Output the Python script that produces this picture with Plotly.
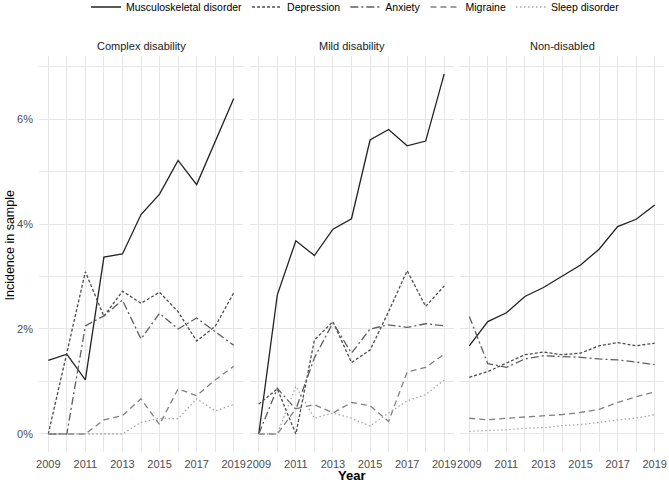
import plotly.graph_objects as go

# Year axis and incidence (%) per panel
years = list(range(2009, 2020))
panels = ["Complex disability", "Mild disability", "Non-disabled"]
conditions = ["Musculoskeletal disorder", "Depression", "Anxiety", "Migraine", "Sleep disorder"]

complex_msk = [1.40, 1.52, 1.03, 3.37, 3.43, 4.18, 4.57, 5.21, 4.75, 5.57, 6.39]
complex_dep = [0.00, 1.55, 3.09, 2.24, 2.72, 2.49, 2.70, 2.33, 1.77, 2.05, 2.69]
complex_anx = [0.00, 0.00, 2.06, 2.25, 2.55, 1.81, 2.30, 2.00, 2.21, 1.95, 1.69]
complex_mig = [0.00, 0.00, 0.00, 0.27, 0.35, 0.67, 0.18, 0.86, 0.73, 1.03, 1.29]
complex_slp = [0.00, 0.00, 0.00, 0.00, 0.00, 0.22, 0.30, 0.29, 0.67, 0.44, 0.56]

mild_msk = [0.00, 2.65, 3.68, 3.40, 3.90, 4.10, 5.60, 5.80, 5.49, 5.58, 6.86]
mild_dep = [0.57, 0.86, 0.00, 1.79, 2.14, 1.36, 1.60, 2.33, 3.11, 2.43, 2.82]
mild_anx = [0.00, 0.87, 0.47, 1.45, 2.12, 1.54, 2.00, 2.08, 2.03, 2.10, 2.06]
mild_mig = [0.00, 0.00, 0.48, 0.56, 0.40, 0.60, 0.54, 0.24, 1.18, 1.27, 1.52]
mild_slp = [0.00, 0.00, 0.91, 0.30, 0.40, 0.30, 0.15, 0.40, 0.63, 0.75, 1.03]

non_msk = [1.68, 2.14, 2.31, 2.62, 2.79, 3.01, 3.22, 3.52, 3.95, 4.09, 4.36]
non_dep = [1.08, 1.19, 1.35, 1.51, 1.56, 1.51, 1.54, 1.68, 1.74, 1.68, 1.73]
non_anx = [2.24, 1.34, 1.27, 1.43, 1.49, 1.48, 1.46, 1.43, 1.41, 1.37, 1.32]
non_mig = [0.30, 0.27, 0.30, 0.32, 0.35, 0.37, 0.41, 0.47, 0.60, 0.71, 0.80]
non_slp = [0.05, 0.06, 0.08, 0.11, 0.12, 0.16, 0.18, 0.22, 0.27, 0.30, 0.37]

series = {
    "Complex disability": [complex_msk, complex_dep, complex_anx, complex_mig, complex_slp],
    "Mild disability": [mild_msk, mild_dep, mild_anx, mild_mig, mild_slp],
    "Non-disabled": [non_msk, non_dep, non_anx, non_mig, non_slp],
}

styles = {
    "Musculoskeletal disorder": dict(color="#222222", dash="solid"),
    "Depression": dict(color="#4d4d4d", dash="3px,2px"),
    "Anxiety": dict(color="#5e5e5e", dash="8px,3px,2px,3px"),
    "Migraine": dict(color="#808080", dash="6px,4px"),
    "Sleep disorder": dict(color="#a6a6a6", dash="1.5px,2.5px"),
}

W, H = 669, 484
# plot area in pixels
L, R, T, B = 39, 664, 55.6, 452.4
PW, PH = R - L, B - T
# panel pixel bounds (left, right)
px_bounds = [(39, 243), (249.5, 453.5), (460, 664)]

font = "Liberation Sans, Arial, sans-serif"
grid = "#e6e6e6"

fig = go.Figure()
for i, panel in enumerate(panels):
    ax = "" if i == 0 else str(i + 1)
    for cond, vals in zip(conditions, series[panel]):
        st = styles[cond]
        fig.add_trace(go.Scatter(
            x=years, y=vals, mode="lines", name=cond,
            legendgroup=cond, showlegend=(i == 0),
            line=dict(color=st["color"], dash=st["dash"], width=1.3),
            xaxis="x" + ax, yaxis="y" + ax,
        ))

layout = dict(
    width=W, height=H, autosize=False,
    margin=dict(l=L, r=W - R, t=T, b=H - B, pad=0, autoexpand=False),
    plot_bgcolor="white", paper_bgcolor="white",
    font=dict(family=font, size=11, color="#000000"),
    showlegend=True,
    legend=dict(orientation="h", x=(355.5 - L) / PW, xanchor="center", yref="container",
                y=1 - 7 / H, yanchor="middle", font=dict(size=10.5, color="#000000"),
                itemwidth=30, tracegroupgap=0, bgcolor="rgba(0,0,0,0)"),
)

for i, (l, r) in enumerate(px_bounds):
    ax = "" if i == 0 else str(i + 1)
    layout["xaxis" + ax] = dict(
        domain=[(l - L) / PW, (r - L) / PW], range=[2008.5, 2019.5],
        tickmode="linear", tick0=2009, dtick=2, automargin=False,
        showgrid=True, gridcolor=grid, gridwidth=1.1, zeroline=False,
        minor=dict(dtick=1, tick0=2009, showgrid=True, gridcolor=grid, gridwidth=0.6),
        tickfont=dict(size=11, color="#4d4d4d"), ticks="", ticklabelstandoff=4,
        anchor="y" + ax, showline=False,
    )
    layout["yaxis" + ax] = dict(
        domain=[0, 1], range=[-0.343, 7.2], automargin=False,
        tickmode="linear", tick0=0, dtick=2, ticksuffix="%",
        showgrid=True, gridcolor=grid, gridwidth=1.1, zeroline=False,
        minor=dict(dtick=1, tick0=0, showgrid=True, gridcolor=grid, gridwidth=0.6),
        tickfont=dict(size=11, color="#4d4d4d"), ticks="", ticklabelstandoff=5,
        showticklabels=(i == 0), anchor="x" + ax, showline=False,
    )

fig.update_layout(**layout)


def px(xp, yp):
    return (xp - L) / PW, (B - yp) / PH


annotations = []
for (l, r), panel in zip(px_bounds, panels):
    xx, yy = px((l + r) / 2, 46)
    annotations.append(dict(
        text=panel, x=xx, y=yy, xref="paper", yref="paper",
        showarrow=False, xanchor="center", yanchor="middle",
        font=dict(size=11, color="#1a1a1a"),
    ))
xx, yy = px((L + R) / 2, 476)
annotations.append(dict(
    text="<b>Year</b>", x=xx, y=yy, xref="paper", yref="paper",
    showarrow=False, xanchor="center", yanchor="middle", font=dict(size=13, color="#000000"),
))
xx, yy = px(10.5, 245)
annotations.append(dict(
    text="Incidence in sample", x=xx, y=yy, xref="paper", yref="paper",
    showarrow=False, xanchor="center", yanchor="middle", textangle=-90,
    font=dict(size=12.5, color="#000000"),
))
fig.update_layout(annotations=annotations)

# drop the browser's default body margin so the figure sits at the page origin
fig.write_html("out.html", config={"displayModeBar": False},
               post_script="document.body.style.margin = '0px';")
